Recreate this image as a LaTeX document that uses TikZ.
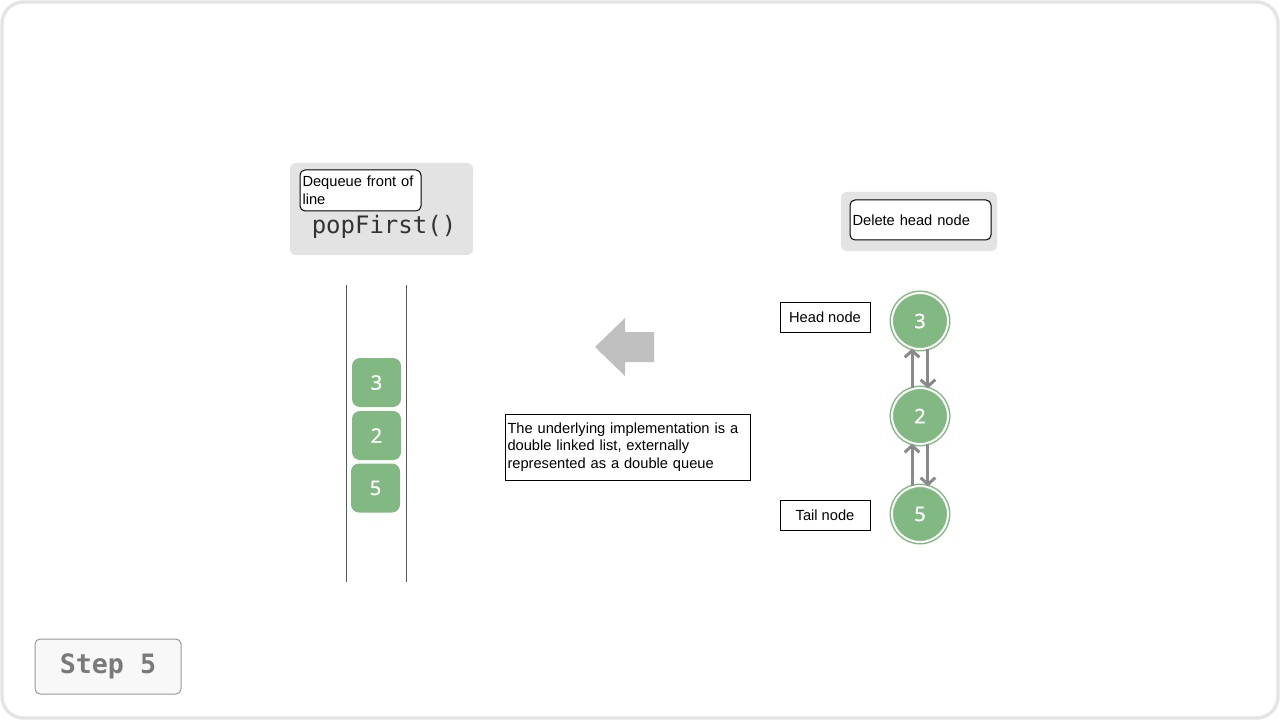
\documentclass[tikz,border=0pt]{standalone}
\usepackage{fontspec}
\setmainfont{Liberation Sans}
\setmonofont{DejaVu Sans Mono}
\newfontfamily\digitfont[FakeBold=0.9]{Noto Sans}
\usetikzlibrary{arrows.meta}
\definecolor{framec}{HTML}{E4E4E4}
\definecolor{panelc}{HTML}{E3E3E3}
\definecolor{greenc}{HTML}{82B982}
\definecolor{arrowc}{HTML}{C0C0C0}
\definecolor{linkc}{HTML}{8A8A8A}
\definecolor{codec}{HTML}{333333}
\definecolor{stepfill}{HTML}{F8F8F8}
\definecolor{stepdraw}{HTML}{999999}
\definecolor{steptext}{HTML}{7A7A7A}
\begin{document}
\begin{tikzpicture}[x=0.75pt,y=-0.75pt,
  labelbox/.style={draw=black, fill=white, line width=0.75pt, inner sep=1.5pt,
    font=\fontsize{11}{13.5}\selectfont, align=left},
  panel/.style={fill=panelc, rounded corners=4.5pt},
  greenbox/.style={fill=greenc, rounded corners=6pt, minimum width=36.75pt,
    minimum height=36.75pt, text=white, font=\digitfont\fontsize{15}{18}\selectfont},
  listnode/.style={circle, fill=greenc, draw=greenc, double=white, double distance=1.5pt,
    line width=1.1pt, minimum size=42pt, inner sep=0pt, text=white,
    font=\digitfont\fontsize{15}{18}\selectfont},
  link/.style={draw=linkc, line width=2.25pt, -{Straight Barb[length=5pt,width=11pt]}},
  wall/.style={draw=black!65, line width=0.75pt}
]
\useasboundingbox (0,0) rectangle (1280,720);
% frame
\draw[framec, line width=2.5pt, fill=white, rounded corners=16pt] (2,2) rectangle (1278,718);

% left panel
\path[panel] (290,163) rectangle (473,255);
\node[labelbox, rounded corners=3.75pt, minimum width=90.75pt, minimum height=30.75pt,
  text width=87pt] (dequeue) at (360.5,190.5) {Dequeue front of\\line};
\node[font=\ttfamily\fontsize{18}{20}\selectfont, text=codec] (pop) at (384,227) {popFirst()};

% queue walls
\coordinate (wl1) at (346,285); \coordinate (wl2) at (346,582);
\coordinate (wr1) at (406,285); \coordinate (wr2) at (406,582);
\draw[wall] (wl1) -- (wl2);
\draw[wall] (wr1) -- (wr2);

% queue items
\node[greenbox] (q3) at (376.5,382.5) {3};
\node[greenbox] (q2) at (376.5,435.5) {2};
\node[greenbox] (q5) at (375.5,488) {5};

% big arrow
\fill[arrowc] (595,347) -- (625,318) -- (625,332) -- (654,332) -- (654,362) -- (625,362) -- (625,376) -- cycle;

% description
\node[labelbox, minimum width=183.75pt, minimum height=49.5pt, text width=180pt,
  font=\fontsize{11}{13.2}\selectfont] (desc) at (627.5,447)
  {The underlying implementation is a\\double linked list, externally\\represented as a double queue};

% right panel
\path[panel] (841,192) rectangle (997,251);
\node[labelbox, rounded corners=3.75pt, minimum width=105.75pt, minimum height=30pt,
  text width=102pt] (del) at (920.5,220) {Delete head node};

% head / tail labels
\node[labelbox, minimum width=67.5pt, minimum height=22.5pt, align=center] (head) at (825,317) {Head node};
\node[labelbox, minimum width=67.5pt, minimum height=22.5pt, align=center] (tail) at (825,515) {Tail node};

% linked list
\node[listnode] (c3) at (920,321) {3};
\node[listnode] (c2) at (920,416) {2};
\node[listnode] (c5) at (920,514) {5};
\draw[link] (c2.106) -- (c3.254);
\draw[link] (c3.286) -- (c2.74);
\draw[link] (c5.106) -- (c2.254);
\draw[link] (c2.286) -- (c5.74);

% step
\node[draw=stepdraw, fill=stepfill, rounded corners=3.75pt, line width=0.75pt,
  minimum width=109.5pt, minimum height=41.25pt, text=steptext,
  font=\ttfamily\bfseries\fontsize{20}{22}\selectfont] (step) at (108,666.5) {Step 5};
\end{tikzpicture}
\end{document}
